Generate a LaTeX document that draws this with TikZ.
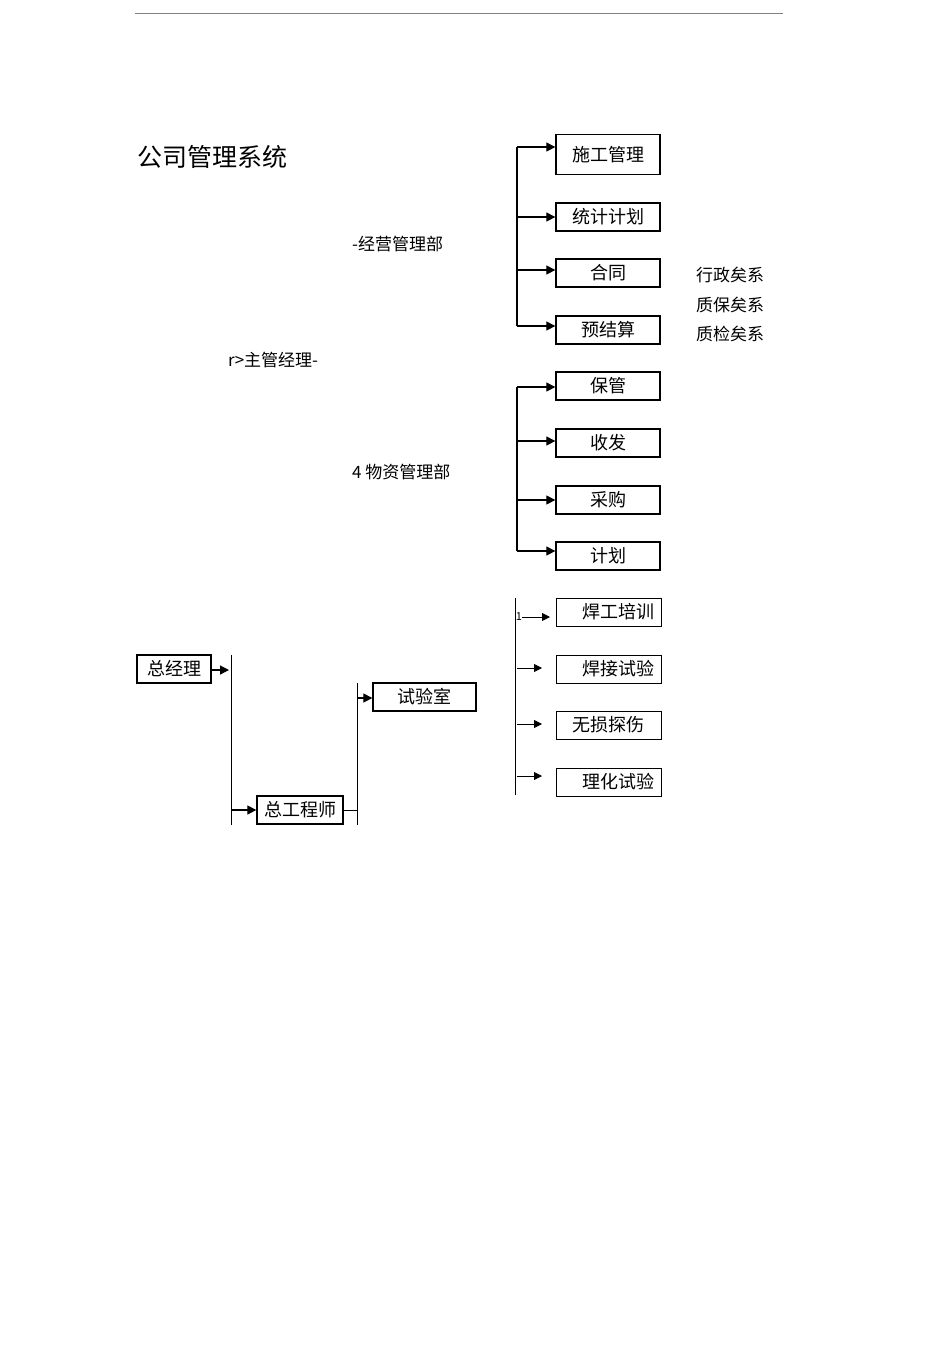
\documentclass[tikz,border=0pt]{standalone}
\usepackage{fontspec}
\setmainfont{Noto Sans CJK SC}
\usetikzlibrary{arrows.meta}
\begin{document}
\begin{tikzpicture}[x=1pt,y=-1pt,
 bx/.style={draw,line width=1.3pt,minimum height=28pt,inner sep=0pt,font=\fontsize{18}{20}\selectfont},
 tb/.style={draw,line width=0.5pt,minimum height=28pt,inner sep=0pt,font=\fontsize{18}{20}\selectfont},
 ar/.style={line width=1.2pt,-{Triangle[length=9pt,width=9pt]}},
 lb/.style={anchor=west,inner sep=0pt,font=\fontsize{17}{19}\selectfont}]
\useasboundingbox (0,0) rectangle (950,1345);
\draw[gray] (135,13) -- (783,13);
\node[lb,font=\fontsize{25}{27}\selectfont] (title) at (137,157) {公司管理系统};
\node[lb] (jy) at (352,244) {-经营管理部};
\node[lb] (zg) at (228,360) {r>主管经理-};
\node[lb] (wz) at (352,472) {4 物资管理部};
\node[lb] (r1) at (696,275) {行政矣系};
\node[lb] (r2) at (696,305) {质保矣系};
\node[lb] (r3) at (696,334) {质检矣系};
% group 1
\node[bx,minimum width=104pt,minimum height=40pt] (a1) at (608,154.5) {施工管理};
\node[bx,minimum width=104pt] (a2) at (608,217) {统计计划};
\node[bx,minimum width=104pt] (a3) at (608,273) {合同};
\node[bx,minimum width=104pt] (a4) at (608,330) {预结算};
\coordinate (g1t) at (517,147); \coordinate (g1b) at (517,326);
\draw[line width=1.2pt] (g1t) -- (g1b);
\foreach \n/\y in {a1/147,a2/217,a3/270,a4/326} \draw[ar] (517,\y) -- (\n.west |- 0,\y);
% group 2
\node[bx,minimum width=104pt] (b1) at (608,386) {保管};
\node[bx,minimum width=104pt] (b2) at (608,443) {收发};
\node[bx,minimum width=104pt] (b3) at (608,500) {采购};
\node[bx,minimum width=104pt] (b4) at (608,556) {计划};
\draw[line width=1.2pt] (517,387) -- (517,551);
\foreach \n/\y in {b1/387,b2/441,b3/500,b4/551} \draw[ar] (517,\y) -- (\n.west |- 0,\y);
% group 3
\node[tb,minimum width=105pt] (c1) at (608.5,612) {\hspace{20pt}焊工培训};
\node[tb,minimum width=105pt] (c2) at (608.5,669) {\hspace{20pt}焊接试验};
\node[tb,minimum width=105pt] (c3) at (608.5,725) {无损探伤};
\node[tb,minimum width=105pt] (c4) at (608.5,782) {\hspace{20pt}理化试验};
\draw[line width=0.5pt] (515,598) -- (515,795);
\node[inner sep=0pt,font=\fontsize{11}{12}\selectfont] (one) at (519,617) {1};
\draw[line width=0.8pt,-{Triangle[length=8pt,width=8pt]}] (one.east) -- (550,617);
\foreach \y in {668,724,776} \draw[line width=0.8pt,-{Triangle[length=8pt,width=8pt]}] (517,\y) -- (542,\y);
% bottom
\node[bx,minimum width=74pt] (zjl) at (174,669) {总经理};
\node[bx,minimum width=86pt] (zgc) at (300,810) {总工程师};
\node[bx,minimum width=103pt] (sys) at (424.5,697) {试验室};
\draw[ar] (zjl.east |- 0,670) -- (229,670);
\draw[line width=0.8pt] (231,655) -- (231,825);
\draw[ar] (231,810) -- (zgc.west);
\draw[line width=0.8pt] (zgc.east) -- (357,810);
\draw[line width=0.8pt] (357,683) -- (357,825);
\draw[ar] (357,698) -- (sys.west |- 0,698);
\end{tikzpicture}
\end{document}
